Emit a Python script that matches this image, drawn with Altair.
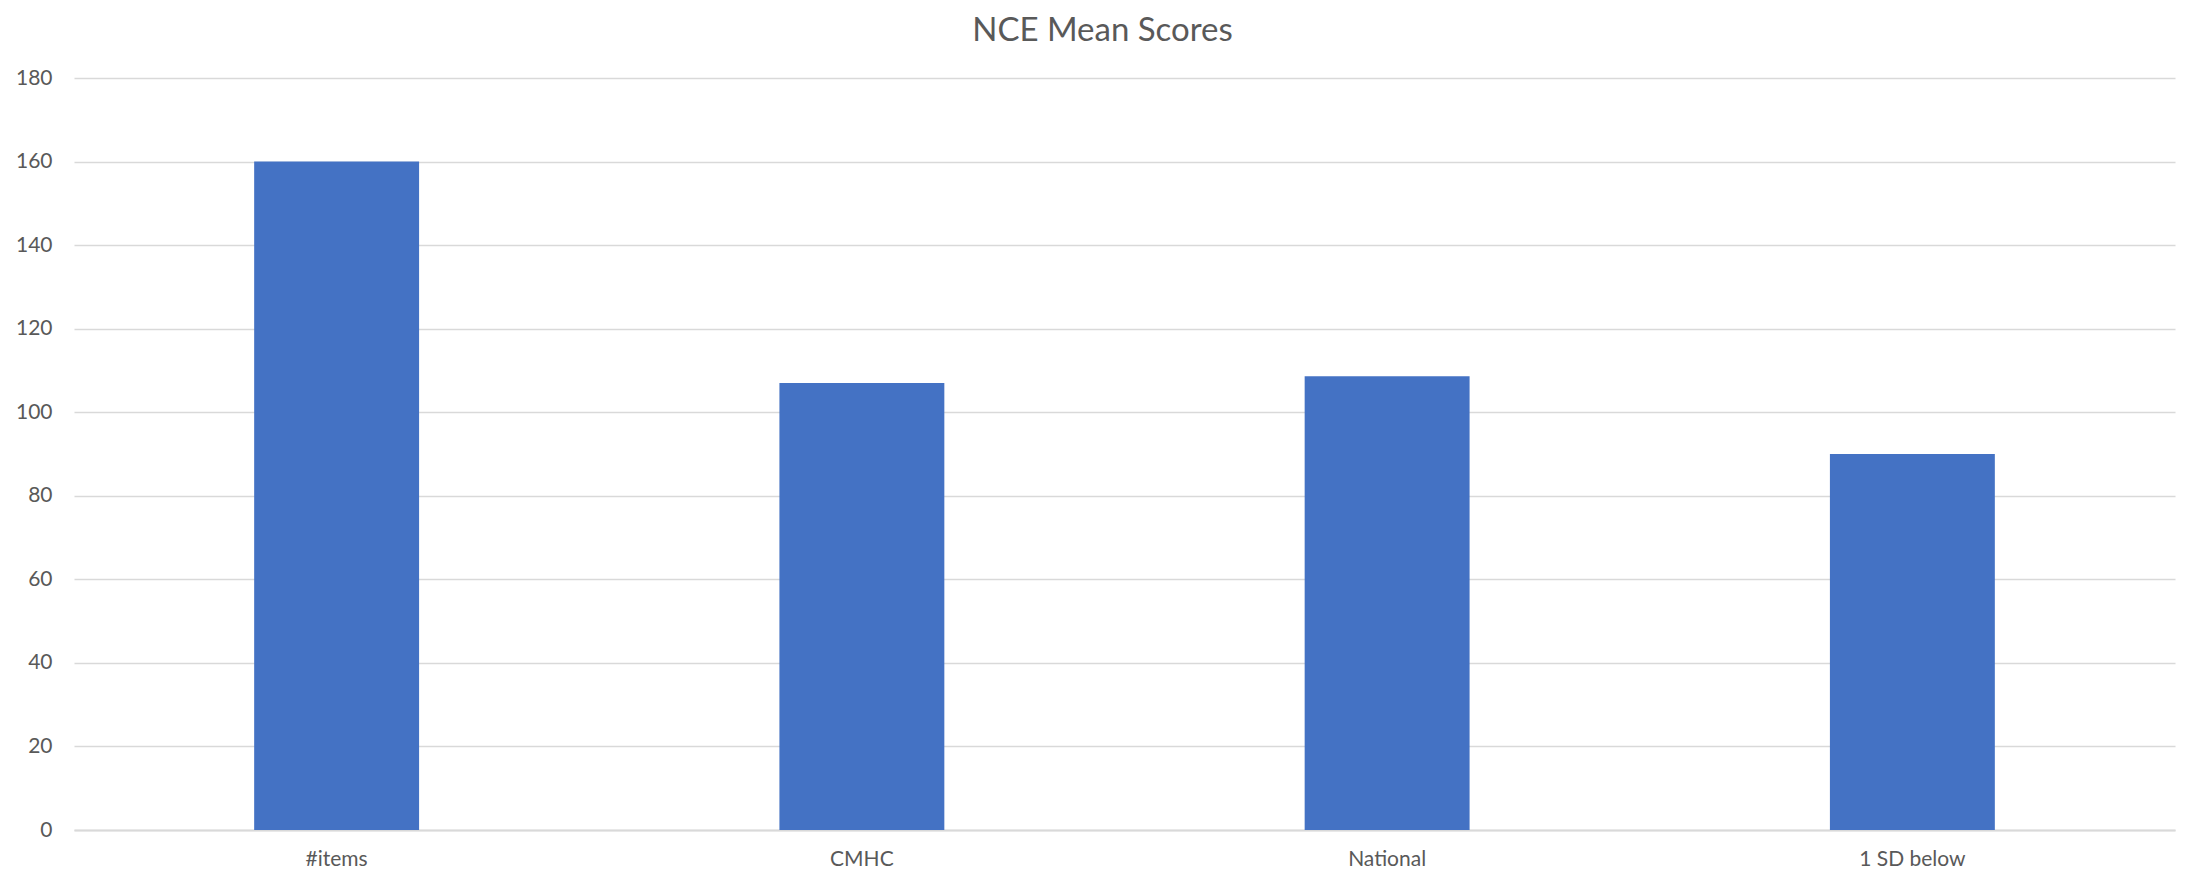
import altair as alt
import pandas as pd

categories = ["#items", "CMHC", "National", "1 SD below"]
values = [160, 107, 108.6, 90]

df = pd.DataFrame({"category": categories, "value": values})

FONT = "Lato"
GRAY = "#595959"
GRID = "#d9d9d9"

chart = alt.Chart(df).mark_bar(color="#4472C4").encode(
    x=alt.X(
        "category:N",
        sort=categories,
        title=None,
        scale=alt.Scale(paddingInner=0.686, paddingOuter=0.343),
        axis=alt.Axis(
            labelAngle=0,
            labelFont=FONT,
            labelFontSize=21,
            labelColor=GRAY,
            labelPadding=18,
            ticks=False,
            domain=True,
            domainColor=GRID,
            domainWidth=2,
            grid=False,
        ),
    ),
    y=alt.Y(
        "value:Q",
        title=None,
        scale=alt.Scale(domain=[0, 180], nice=False),
        axis=alt.Axis(
            values=[0, 20, 40, 60, 80, 100, 120, 140, 160, 180],
            labelFont=FONT,
            labelFontSize=21,
            labelColor=GRAY,
            labelPadding=22,
            ticks=False,
            domain=False,
            grid=True,
            gridColor=GRID,
            gridWidth=1.5,
        ),
    ),
).properties(
    width=2101,
    height=752,
    title=alt.TitleParams(
        "NCE Mean Scores",
        font=FONT,
        fontSize=33,
        fontWeight="normal",
        color=GRAY,
        anchor="middle",
        offset=19,
        dx=-22,
    ),
    autosize=alt.AutoSizeParams(type="none"),
    padding={"left": 66, "top": 70, "right": 5, "bottom": 40},
).configure_view(stroke=None)

chart.save("out.html", embed_options={"renderer": "svg", "actions": False})
